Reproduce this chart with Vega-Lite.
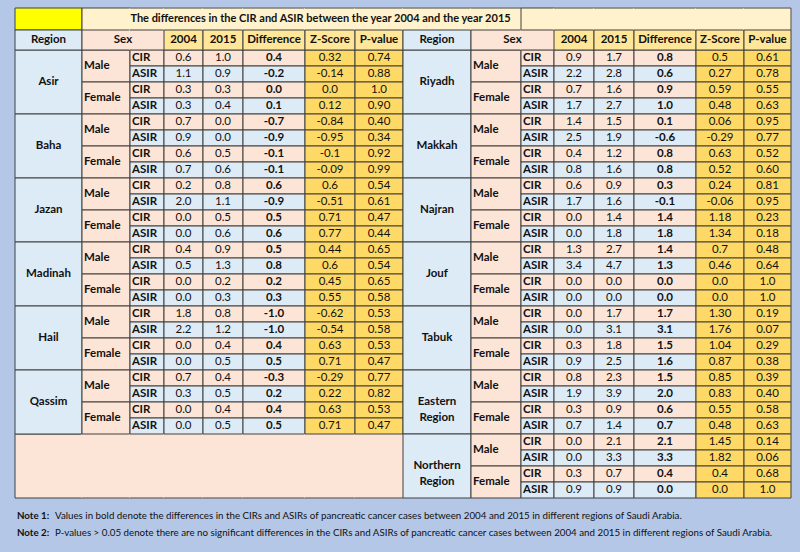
{
"$schema":"https://vega.github.io/schema/vega-lite/v6.json",
"background":"#b4c7e7",
"padding":{"left":14,"top":7,"right":10,"bottom":4},
"spacing":0,
"config":{"view":{"stroke":null},"concat":{"spacing":0},"axis":{"disable":true},"text":{"font":"Lato","fontSize":11.5,"color":"#111111"}},
"datasets":{
"left":[
{"region":"Asir","sex":"Male","measure":"CIR","y2004":"0.6","y2015":"1.0","diff":"0.4","z":"0.32","p":"0.74"},
{"region":"Asir","sex":"Male","measure":"ASIR","y2004":"1.1","y2015":"0.9","diff":"-0.2","z":"-0.14","p":"0.88"},
{"region":"Asir","sex":"Female","measure":"CIR","y2004":"0.3","y2015":"0.3","diff":"0.0","z":"0.0","p":"1.0"},
{"region":"Asir","sex":"Female","measure":"ASIR","y2004":"0.3","y2015":"0.4","diff":"0.1","z":"0.12","p":"0.90"},
{"region":"Baha","sex":"Male","measure":"CIR","y2004":"0.7","y2015":"0.0","diff":"-0.7","z":"-0.84","p":"0.40"},
{"region":"Baha","sex":"Male","measure":"ASIR","y2004":"0.9","y2015":"0.0","diff":"-0.9","z":"-0.95","p":"0.34"},
{"region":"Baha","sex":"Female","measure":"CIR","y2004":"0.6","y2015":"0.5","diff":"-0.1","z":"-0.1","p":"0.92"},
{"region":"Baha","sex":"Female","measure":"ASIR","y2004":"0.7","y2015":"0.6","diff":"-0.1","z":"-0.09","p":"0.99"},
{"region":"Jazan","sex":"Male","measure":"CIR","y2004":"0.2","y2015":"0.8","diff":"0.6","z":"0.6","p":"0.54"},
{"region":"Jazan","sex":"Male","measure":"ASIR","y2004":"2.0","y2015":"1.1","diff":"-0.9","z":"-0.51","p":"0.61"},
{"region":"Jazan","sex":"Female","measure":"CIR","y2004":"0.0","y2015":"0.5","diff":"0.5","z":"0.71","p":"0.47"},
{"region":"Jazan","sex":"Female","measure":"ASIR","y2004":"0.0","y2015":"0.6","diff":"0.6","z":"0.77","p":"0.44"},
{"region":"Madinah","sex":"Male","measure":"CIR","y2004":"0.4","y2015":"0.9","diff":"0.5","z":"0.44","p":"0.65"},
{"region":"Madinah","sex":"Male","measure":"ASIR","y2004":"0.5","y2015":"1.3","diff":"0.8","z":"0.6","p":"0.54"},
{"region":"Madinah","sex":"Female","measure":"CIR","y2004":"0.0","y2015":"0.2","diff":"0.2","z":"0.45","p":"0.65"},
{"region":"Madinah","sex":"Female","measure":"ASIR","y2004":"0.0","y2015":"0.3","diff":"0.3","z":"0.55","p":"0.58"},
{"region":"Hail","sex":"Male","measure":"CIR","y2004":"1.8","y2015":"0.8","diff":"-1.0","z":"-0.62","p":"0.53"},
{"region":"Hail","sex":"Male","measure":"ASIR","y2004":"2.2","y2015":"1.2","diff":"-1.0","z":"-0.54","p":"0.58"},
{"region":"Hail","sex":"Female","measure":"CIR","y2004":"0.0","y2015":"0.4","diff":"0.4","z":"0.63","p":"0.53"},
{"region":"Hail","sex":"Female","measure":"ASIR","y2004":"0.0","y2015":"0.5","diff":"0.5","z":"0.71","p":"0.47"},
{"region":"Qassim","sex":"Male","measure":"CIR","y2004":"0.7","y2015":"0.4","diff":"-0.3","z":"-0.29","p":"0.77"},
{"region":"Qassim","sex":"Male","measure":"ASIR","y2004":"0.3","y2015":"0.5","diff":"0.2","z":"0.22","p":"0.82"},
{"region":"Qassim","sex":"Female","measure":"CIR","y2004":"0.0","y2015":"0.4","diff":"0.4","z":"0.63","p":"0.53"},
{"region":"Qassim","sex":"Female","measure":"ASIR","y2004":"0.0","y2015":"0.5","diff":"0.5","z":"0.71","p":"0.47"}
],
"right":[
{"region":"Riyadh","sex":"Male","measure":"CIR","y2004":"0.9","y2015":"1.7","diff":"0.8","z":"0.5","p":"0.61"},
{"region":"Riyadh","sex":"Male","measure":"ASIR","y2004":"2.2","y2015":"2.8","diff":"0.6","z":"0.27","p":"0.78"},
{"region":"Riyadh","sex":"Female","measure":"CIR","y2004":"0.7","y2015":"1.6","diff":"0.9","z":"0.59","p":"0.55"},
{"region":"Riyadh","sex":"Female","measure":"ASIR","y2004":"1.7","y2015":"2.7","diff":"1.0","z":"0.48","p":"0.63"},
{"region":"Makkah","sex":"Male","measure":"CIR","y2004":"1.4","y2015":"1.5","diff":"0.1","z":"0.06","p":"0.95"},
{"region":"Makkah","sex":"Male","measure":"ASIR","y2004":"2.5","y2015":"1.9","diff":"-0.6","z":"-0.29","p":"0.77"},
{"region":"Makkah","sex":"Female","measure":"CIR","y2004":"0.4","y2015":"1.2","diff":"0.8","z":"0.63","p":"0.52"},
{"region":"Makkah","sex":"Female","measure":"ASIR","y2004":"0.8","y2015":"1.6","diff":"0.8","z":"0.52","p":"0.60"},
{"region":"Najran","sex":"Male","measure":"CIR","y2004":"0.6","y2015":"0.9","diff":"0.3","z":"0.24","p":"0.81"},
{"region":"Najran","sex":"Male","measure":"ASIR","y2004":"1.7","y2015":"1.6","diff":"-0.1","z":"-0.06","p":"0.95"},
{"region":"Najran","sex":"Female","measure":"CIR","y2004":"0.0","y2015":"1.4","diff":"1.4","z":"1.18","p":"0.23"},
{"region":"Najran","sex":"Female","measure":"ASIR","y2004":"0.0","y2015":"1.8","diff":"1.8","z":"1.34","p":"0.18"},
{"region":"Jouf","sex":"Male","measure":"CIR","y2004":"1.3","y2015":"2.7","diff":"1.4","z":"0.7","p":"0.48"},
{"region":"Jouf","sex":"Male","measure":"ASIR","y2004":"3.4","y2015":"4.7","diff":"1.3","z":"0.46","p":"0.64"},
{"region":"Jouf","sex":"Female","measure":"CIR","y2004":"0.0","y2015":"0.0","diff":"0.0","z":"0.0","p":"1.0"},
{"region":"Jouf","sex":"Female","measure":"ASIR","y2004":"0.0","y2015":"0.0","diff":"0.0","z":"0.0","p":"1.0"},
{"region":"Tabuk","sex":"Male","measure":"CIR","y2004":"0.0","y2015":"1.7","diff":"1.7","z":"1.30","p":"0.19"},
{"region":"Tabuk","sex":"Male","measure":"ASIR","y2004":"0.0","y2015":"3.1","diff":"3.1","z":"1.76","p":"0.07"},
{"region":"Tabuk","sex":"Female","measure":"CIR","y2004":"0.3","y2015":"1.8","diff":"1.5","z":"1.04","p":"0.29"},
{"region":"Tabuk","sex":"Female","measure":"ASIR","y2004":"0.9","y2015":"2.5","diff":"1.6","z":"0.87","p":"0.38"},
{"region":"Eastern Region","sex":"Male","measure":"CIR","y2004":"0.8","y2015":"2.3","diff":"1.5","z":"0.85","p":"0.39"},
{"region":"Eastern Region","sex":"Male","measure":"ASIR","y2004":"1.9","y2015":"3.9","diff":"2.0","z":"0.83","p":"0.40"},
{"region":"Eastern Region","sex":"Female","measure":"CIR","y2004":"0.3","y2015":"0.9","diff":"0.6","z":"0.55","p":"0.58"},
{"region":"Eastern Region","sex":"Female","measure":"ASIR","y2004":"0.7","y2015":"1.4","diff":"0.7","z":"0.48","p":"0.63"},
{"region":"Northern Region","sex":"Male","measure":"CIR","y2004":"0.0","y2015":"2.1","diff":"2.1","z":"1.45","p":"0.14"},
{"region":"Northern Region","sex":"Male","measure":"ASIR","y2004":"0.0","y2015":"3.3","diff":"3.3","z":"1.82","p":"0.06"},
{"region":"Northern Region","sex":"Female","measure":"CIR","y2004":"0.3","y2015":"0.7","diff":"0.4","z":"0.4","p":"0.68"},
{"region":"Northern Region","sex":"Female","measure":"ASIR","y2004":"0.9","y2015":"0.9","diff":"0.0","z":"0.0","p":"1.0"}
]
},
"vconcat":[
{"spacing":0,"bounds":"flush","hconcat":[
 {"width":67,"height":490,"data":{"name":"left"},"transform":[{"window":[{"op":"row_number","as":"r"}]},{"calculate":"datum.r + 1","as":"r2"},{"calculate":"datum.r + 0.5","as":"rm"}],"layer":[
   {"data":{"values":[{"cell":"title"}]},"mark":{"type":"rect","fill":"#ffff00","stroke":"#404040","strokeWidth":1},"encoding":{"y":{"datum":-1.625,"type":"quantitative","scale":{"domain":[-1.625,29],"reverse":true,"nice":false,"zero":false},"axis":null},"y2":{"datum":-0.25}}},
   {"data":{"values":[{"area":"blank"}]},"mark":{"type":"rect","fill":"#fce4d6","stroke":"#404040","strokeWidth":1,"strokeDash":[67,64,131,0]},"encoding":{"y":{"datum":25,"type":"quantitative","scale":{"domain":[-1.625,29],"reverse":true,"nice":false,"zero":false},"axis":null},"y2":{"datum":29}}},
   {"transform":[{"aggregate":[{"op":"min","field":"r","as":"r0"},{"op":"max","field":"r2","as":"r1"}],"groupby":["region"]},{"calculate":"(datum.r0 + datum.r1) / 2","as":"rc"}],"layer":[
     {"mark":{"type":"rect","fill":"#ddebf7","stroke":"#404040","strokeWidth":1},"encoding":{"y":{"field":"r0","type":"quantitative","scale":{"domain":[-1.625,29],"reverse":true,"nice":false,"zero":false},"axis":null},"y2":{"field":"r1"}}},
     {"mark":{"type":"text","fontWeight":"bold","lineBreak":" ","lineHeight":16},"encoding":{"y":{"field":"rc","type":"quantitative","scale":{"domain":[-1.625,29],"reverse":true,"nice":false,"zero":false},"axis":null},"text":{"field":"region"}}}
   ]},
   {"data":{"values":[{"header":"Region"}]},"layer":[
     {"mark":{"type":"rect","fill":"#ddebf7","stroke":"#404040","strokeWidth":1},"encoding":{"y":{"datum":-0.25,"type":"quantitative","scale":{"domain":[-1.625,29],"reverse":true,"nice":false,"zero":false},"axis":null},"y2":{"datum":1}}},
     {"mark":{"type":"text","fontWeight":"bold"},"encoding":{"y":{"datum":0.375,"type":"quantitative","scale":{"domain":[-1.625,29],"reverse":true,"nice":false,"zero":false},"axis":null},"text":{"field":"header"}}}
   ]}
 ]},
 {"width":48,"height":490,"data":{"name":"left"},"transform":[{"window":[{"op":"row_number","as":"r"}]},{"calculate":"datum.r + 1","as":"r2"},{"calculate":"datum.r + 0.5","as":"rm"}],"layer":[
   {"data":{"values":[{"cell":"title"}]},"mark":{"type":"rect","fill":"#fff2cc","stroke":"#404040","strokeWidth":1,"strokeDash":[48,70,22,0]},"encoding":{"y":{"datum":-1.625,"type":"quantitative","scale":{"domain":[-1.625,29],"reverse":true,"nice":false,"zero":false},"axis":null},"y2":{"datum":-0.25}}},
   {"data":{"values":[{"area":"blank"}]},"layer":[
     {"mark":{"type":"rect","fill":"#fce4d6","stroke":"#fce4d6","strokeWidth":1},"encoding":{"y":{"datum":25,"type":"quantitative","scale":{"domain":[-1.625,29],"reverse":true,"nice":false,"zero":false},"axis":null},"y2":{"datum":29}}},
     {"mark":{"type":"rule","color":"#404040","strokeWidth":1},"encoding":{"y":{"datum":29,"type":"quantitative","scale":{"domain":[-1.625,29],"reverse":true,"nice":false,"zero":false},"axis":null}}}
   ]},
   {"transform":[{"aggregate":[{"op":"min","field":"r","as":"s0"},{"op":"max","field":"r2","as":"s1"}],"groupby":["region","sex"]},{"calculate":"(datum.s0 + datum.s1) / 2","as":"sc"}],"layer":[
     {"mark":{"type":"rect","fill":"#fce4d6","stroke":"#404040","strokeWidth":1},"encoding":{"y":{"field":"s0","type":"quantitative","scale":{"domain":[-1.625,29],"reverse":true,"nice":false,"zero":false},"axis":null},"y2":{"field":"s1"}}},
     {"mark":{"type":"text","fontWeight":"bold","align":"left","dx":-22},"encoding":{"y":{"field":"sc","type":"quantitative","scale":{"domain":[-1.625,29],"reverse":true,"nice":false,"zero":false},"axis":null},"text":{"field":"sex"}}}
   ]},
   {"data":{"values":[{"header":"Sex"}]},"mark":{"type":"rect","fill":"#fce4d6","stroke":"#404040","strokeWidth":1,"strokeDash":[48,20,68,0]},"encoding":{"y":{"datum":-0.25,"type":"quantitative","scale":{"domain":[-1.625,29],"reverse":true,"nice":false,"zero":false},"axis":null},"y2":{"datum":1}}}
 ]},
 {"width":34,"height":490,"data":{"name":"left"},"transform":[{"window":[{"op":"row_number","as":"r"}]},{"calculate":"datum.r + 1","as":"r2"},{"calculate":"datum.r + 0.5","as":"rm"}],"layer":[
   {"data":{"values":[{"cell":"title"}]},"layer":[
     {"mark":{"type":"rect","fill":"#fff2cc","stroke":"#fff2cc","strokeWidth":1},"encoding":{"y":{"datum":-1.625,"type":"quantitative","scale":{"domain":[-1.625,29],"reverse":true,"nice":false,"zero":false},"axis":null},"y2":{"datum":-0.25}}},
     {"mark":{"type":"rule","color":"#404040","strokeWidth":1},"encoding":{"y":{"datum":-1.625,"type":"quantitative","scale":{"domain":[-1.625,29],"reverse":true,"nice":false,"zero":false},"axis":null}}}
   ]},
   {"data":{"values":[{"area":"blank"}]},"layer":[
     {"mark":{"type":"rect","fill":"#fce4d6","stroke":"#fce4d6","strokeWidth":1},"encoding":{"y":{"datum":25,"type":"quantitative","scale":{"domain":[-1.625,29],"reverse":true,"nice":false,"zero":false},"axis":null},"y2":{"datum":29}}},
     {"mark":{"type":"rule","color":"#404040","strokeWidth":1},"encoding":{"y":{"datum":29,"type":"quantitative","scale":{"domain":[-1.625,29],"reverse":true,"nice":false,"zero":false},"axis":null}}}
   ]},
   {"mark":{"type":"rect","stroke":"#404040","strokeWidth":1},"encoding":{"y":{"field":"r","type":"quantitative","scale":{"domain":[-1.625,29],"reverse":true,"nice":false,"zero":false},"axis":null},"y2":{"field":"r2"},"fill":{"condition":{"test":"datum.measure === 'CIR'","value":"#fce4d6"},"value":"#ddebf7"}}},
   {"mark":{"type":"text","fontWeight":"bold","align":"left","dx":-15},"encoding":{"y":{"field":"rm","type":"quantitative","scale":{"domain":[-1.625,29],"reverse":true,"nice":false,"zero":false},"axis":null},"text":{"field":"measure"}}},
   {"data":{"values":[{"header":"Sex"}]},"layer":[
     {"mark":{"type":"rect","fill":"#fce4d6","stroke":"#fce4d6","strokeWidth":1},"encoding":{"y":{"datum":-0.25,"type":"quantitative","scale":{"domain":[-1.625,29],"reverse":true,"nice":false,"zero":false},"axis":null},"y2":{"datum":1}}},
     {"mark":{"type":"rule","color":"#404040","strokeWidth":1},"encoding":{"y":{"datum":-0.25,"type":"quantitative","scale":{"domain":[-1.625,29],"reverse":true,"nice":false,"zero":false},"axis":null}}},
     {"mark":{"type":"rule","color":"#404040","strokeWidth":1},"encoding":{"y":{"datum":1,"type":"quantitative","scale":{"domain":[-1.625,29],"reverse":true,"nice":false,"zero":false},"axis":null}}},
     {"mark":{"type":"text","fontWeight":"bold","dx":-24},"encoding":{"y":{"datum":0.375,"type":"quantitative","scale":{"domain":[-1.625,29],"reverse":true,"nice":false,"zero":false},"axis":null},"text":{"field":"header"}}}
   ]}
 ]},
 {"width":39,"height":490,"data":{"name":"left"},"transform":[{"window":[{"op":"row_number","as":"r"}]},{"calculate":"datum.r + 1","as":"r2"},{"calculate":"datum.r + 0.5","as":"rm"}],"layer":[
   {"data":{"values":[{"cell":"title"}]},"layer":[
     {"mark":{"type":"rect","fill":"#fff2cc","stroke":"#fff2cc","strokeWidth":1},"encoding":{"y":{"datum":-1.625,"type":"quantitative","scale":{"domain":[-1.625,29],"reverse":true,"nice":false,"zero":false},"axis":null},"y2":{"datum":-0.25}}},
     {"mark":{"type":"rule","color":"#404040","strokeWidth":1},"encoding":{"y":{"datum":-1.625,"type":"quantitative","scale":{"domain":[-1.625,29],"reverse":true,"nice":false,"zero":false},"axis":null}}}
   ]},
   {"data":{"values":[{"area":"blank"}]},"layer":[
     {"mark":{"type":"rect","fill":"#fce4d6","stroke":"#fce4d6","strokeWidth":1},"encoding":{"y":{"datum":25,"type":"quantitative","scale":{"domain":[-1.625,29],"reverse":true,"nice":false,"zero":false},"axis":null},"y2":{"datum":29}}},
     {"mark":{"type":"rule","color":"#404040","strokeWidth":1},"encoding":{"y":{"datum":29,"type":"quantitative","scale":{"domain":[-1.625,29],"reverse":true,"nice":false,"zero":false},"axis":null}}}
   ]},
   {"mark":{"type":"rect","stroke":"#404040","strokeWidth":1},"encoding":{"y":{"field":"r","type":"quantitative","scale":{"domain":[-1.625,29],"reverse":true,"nice":false,"zero":false},"axis":null},"y2":{"field":"r2"},"fill":{"condition":{"test":"datum.measure === 'CIR'","value":"#fce4d6"},"value":"#ddebf7"}}},
   {"mark":{"type":"text"},"encoding":{"y":{"field":"rm","type":"quantitative","scale":{"domain":[-1.625,29],"reverse":true,"nice":false,"zero":false},"axis":null},"text":{"field":"y2004"}}},
   {"data":{"values":[{"header":"2004"}]},"layer":[
     {"mark":{"type":"rect","fill":"#ffe699","stroke":"#404040","strokeWidth":1},"encoding":{"y":{"datum":-0.25,"type":"quantitative","scale":{"domain":[-1.625,29],"reverse":true,"nice":false,"zero":false},"axis":null},"y2":{"datum":1}}},
     {"mark":{"type":"text","fontWeight":"bold"},"encoding":{"y":{"datum":0.375,"type":"quantitative","scale":{"domain":[-1.625,29],"reverse":true,"nice":false,"zero":false},"axis":null},"text":{"field":"header"}}}
   ]}
 ]},
 {"width":40,"height":490,"data":{"name":"left"},"transform":[{"window":[{"op":"row_number","as":"r"}]},{"calculate":"datum.r + 1","as":"r2"},{"calculate":"datum.r + 0.5","as":"rm"}],"layer":[
   {"data":{"values":[{"cell":"title"}]},"layer":[
     {"mark":{"type":"rect","fill":"#fff2cc","stroke":"#fff2cc","strokeWidth":1},"encoding":{"y":{"datum":-1.625,"type":"quantitative","scale":{"domain":[-1.625,29],"reverse":true,"nice":false,"zero":false},"axis":null},"y2":{"datum":-0.25}}},
     {"mark":{"type":"rule","color":"#404040","strokeWidth":1},"encoding":{"y":{"datum":-1.625,"type":"quantitative","scale":{"domain":[-1.625,29],"reverse":true,"nice":false,"zero":false},"axis":null}}}
   ]},
   {"data":{"values":[{"area":"blank"}]},"layer":[
     {"mark":{"type":"rect","fill":"#fce4d6","stroke":"#fce4d6","strokeWidth":1},"encoding":{"y":{"datum":25,"type":"quantitative","scale":{"domain":[-1.625,29],"reverse":true,"nice":false,"zero":false},"axis":null},"y2":{"datum":29}}},
     {"mark":{"type":"rule","color":"#404040","strokeWidth":1},"encoding":{"y":{"datum":29,"type":"quantitative","scale":{"domain":[-1.625,29],"reverse":true,"nice":false,"zero":false},"axis":null}}}
   ]},
   {"mark":{"type":"rect","stroke":"#404040","strokeWidth":1},"encoding":{"y":{"field":"r","type":"quantitative","scale":{"domain":[-1.625,29],"reverse":true,"nice":false,"zero":false},"axis":null},"y2":{"field":"r2"},"fill":{"condition":{"test":"datum.measure === 'CIR'","value":"#fce4d6"},"value":"#ddebf7"}}},
   {"mark":{"type":"text"},"encoding":{"y":{"field":"rm","type":"quantitative","scale":{"domain":[-1.625,29],"reverse":true,"nice":false,"zero":false},"axis":null},"text":{"field":"y2015"}}},
   {"data":{"values":[{"header":"2015"}]},"layer":[
     {"mark":{"type":"rect","fill":"#ffe699","stroke":"#404040","strokeWidth":1},"encoding":{"y":{"datum":-0.25,"type":"quantitative","scale":{"domain":[-1.625,29],"reverse":true,"nice":false,"zero":false},"axis":null},"y2":{"datum":1}}},
     {"mark":{"type":"text","fontWeight":"bold"},"encoding":{"y":{"datum":0.375,"type":"quantitative","scale":{"domain":[-1.625,29],"reverse":true,"nice":false,"zero":false},"axis":null},"text":{"field":"header"}}}
   ]}
 ]},
 {"width":62,"height":490,"data":{"name":"left"},"transform":[{"window":[{"op":"row_number","as":"r"}]},{"calculate":"datum.r + 1","as":"r2"},{"calculate":"datum.r + 0.5","as":"rm"}],"layer":[
   {"data":{"values":[{"cell":"title"}]},"layer":[
     {"mark":{"type":"rect","fill":"#fff2cc","stroke":"#fff2cc","strokeWidth":1},"encoding":{"y":{"datum":-1.625,"type":"quantitative","scale":{"domain":[-1.625,29],"reverse":true,"nice":false,"zero":false},"axis":null},"y2":{"datum":-0.25}}},
     {"mark":{"type":"rule","color":"#404040","strokeWidth":1},"encoding":{"y":{"datum":-1.625,"type":"quantitative","scale":{"domain":[-1.625,29],"reverse":true,"nice":false,"zero":false},"axis":null}}}
   ]},
   {"data":{"values":[{"area":"blank"}]},"layer":[
     {"mark":{"type":"rect","fill":"#fce4d6","stroke":"#fce4d6","strokeWidth":1},"encoding":{"y":{"datum":25,"type":"quantitative","scale":{"domain":[-1.625,29],"reverse":true,"nice":false,"zero":false},"axis":null},"y2":{"datum":29}}},
     {"mark":{"type":"rule","color":"#404040","strokeWidth":1},"encoding":{"y":{"datum":29,"type":"quantitative","scale":{"domain":[-1.625,29],"reverse":true,"nice":false,"zero":false},"axis":null}}}
   ]},
   {"mark":{"type":"rect","stroke":"#404040","strokeWidth":1},"encoding":{"y":{"field":"r","type":"quantitative","scale":{"domain":[-1.625,29],"reverse":true,"nice":false,"zero":false},"axis":null},"y2":{"field":"r2"},"fill":{"condition":{"test":"datum.measure === 'CIR'","value":"#fce4d6"},"value":"#ddebf7"}}},
   {"mark":{"type":"text","fontWeight":"bold"},"encoding":{"y":{"field":"rm","type":"quantitative","scale":{"domain":[-1.625,29],"reverse":true,"nice":false,"zero":false},"axis":null},"text":{"field":"diff"}}},
   {"data":{"values":[{"header":"Difference"}]},"layer":[
     {"mark":{"type":"rect","fill":"#ffe699","stroke":"#404040","strokeWidth":1},"encoding":{"y":{"datum":-0.25,"type":"quantitative","scale":{"domain":[-1.625,29],"reverse":true,"nice":false,"zero":false},"axis":null},"y2":{"datum":1}}},
     {"mark":{"type":"text","fontWeight":"bold"},"encoding":{"y":{"datum":0.375,"type":"quantitative","scale":{"domain":[-1.625,29],"reverse":true,"nice":false,"zero":false},"axis":null},"text":{"field":"header"}}}
   ]}
 ]},
 {"width":50,"height":490,"data":{"name":"left"},"transform":[{"window":[{"op":"row_number","as":"r"}]},{"calculate":"datum.r + 1","as":"r2"},{"calculate":"datum.r + 0.5","as":"rm"}],"layer":[
   {"data":{"values":[{"cell":"title"}]},"layer":[
     {"mark":{"type":"rect","fill":"#fff2cc","stroke":"#fff2cc","strokeWidth":1},"encoding":{"y":{"datum":-1.625,"type":"quantitative","scale":{"domain":[-1.625,29],"reverse":true,"nice":false,"zero":false},"axis":null},"y2":{"datum":-0.25}}},
     {"mark":{"type":"rule","color":"#404040","strokeWidth":1},"encoding":{"y":{"datum":-1.625,"type":"quantitative","scale":{"domain":[-1.625,29],"reverse":true,"nice":false,"zero":false},"axis":null}}}
   ]},
   {"data":{"values":[{"area":"blank"}]},"layer":[
     {"mark":{"type":"rect","fill":"#fce4d6","stroke":"#fce4d6","strokeWidth":1},"encoding":{"y":{"datum":25,"type":"quantitative","scale":{"domain":[-1.625,29],"reverse":true,"nice":false,"zero":false},"axis":null},"y2":{"datum":29}}},
     {"mark":{"type":"rule","color":"#404040","strokeWidth":1},"encoding":{"y":{"datum":29,"type":"quantitative","scale":{"domain":[-1.625,29],"reverse":true,"nice":false,"zero":false},"axis":null}}}
   ]},
   {"mark":{"type":"rect","stroke":"#404040","strokeWidth":1,"fill":"#ffd966"},"encoding":{"y":{"field":"r","type":"quantitative","scale":{"domain":[-1.625,29],"reverse":true,"nice":false,"zero":false},"axis":null},"y2":{"field":"r2"}}},
   {"mark":{"type":"text"},"encoding":{"y":{"field":"rm","type":"quantitative","scale":{"domain":[-1.625,29],"reverse":true,"nice":false,"zero":false},"axis":null},"text":{"field":"z"}}},
   {"data":{"values":[{"header":"Z-Score"}]},"layer":[
     {"mark":{"type":"rect","fill":"#ffe699","stroke":"#404040","strokeWidth":1},"encoding":{"y":{"datum":-0.25,"type":"quantitative","scale":{"domain":[-1.625,29],"reverse":true,"nice":false,"zero":false},"axis":null},"y2":{"datum":1}}},
     {"mark":{"type":"text","fontWeight":"bold"},"encoding":{"y":{"datum":0.375,"type":"quantitative","scale":{"domain":[-1.625,29],"reverse":true,"nice":false,"zero":false},"axis":null},"text":{"field":"header"}}}
   ]}
 ]},
 {"width":48,"height":490,"data":{"name":"left"},"transform":[{"window":[{"op":"row_number","as":"r"}]},{"calculate":"datum.r + 1","as":"r2"},{"calculate":"datum.r + 0.5","as":"rm"}],"layer":[
   {"data":{"values":[{"cell":"title"}]},"layer":[
     {"mark":{"type":"rect","fill":"#fff2cc","stroke":"#fff2cc","strokeWidth":1},"encoding":{"y":{"datum":-1.625,"type":"quantitative","scale":{"domain":[-1.625,29],"reverse":true,"nice":false,"zero":false},"axis":null},"y2":{"datum":-0.25}}},
     {"mark":{"type":"rule","color":"#404040","strokeWidth":1},"encoding":{"y":{"datum":-1.625,"type":"quantitative","scale":{"domain":[-1.625,29],"reverse":true,"nice":false,"zero":false},"axis":null}}}
   ]},
   {"data":{"values":[{"area":"blank"}]},"layer":[
     {"mark":{"type":"rect","fill":"#fce4d6","stroke":"#fce4d6","strokeWidth":1},"encoding":{"y":{"datum":25,"type":"quantitative","scale":{"domain":[-1.625,29],"reverse":true,"nice":false,"zero":false},"axis":null},"y2":{"datum":29}}},
     {"mark":{"type":"rule","color":"#404040","strokeWidth":1},"encoding":{"y":{"datum":29,"type":"quantitative","scale":{"domain":[-1.625,29],"reverse":true,"nice":false,"zero":false},"axis":null}}}
   ]},
   {"mark":{"type":"rect","stroke":"#404040","strokeWidth":1,"fill":"#ffd966"},"encoding":{"y":{"field":"r","type":"quantitative","scale":{"domain":[-1.625,29],"reverse":true,"nice":false,"zero":false},"axis":null},"y2":{"field":"r2"}}},
   {"mark":{"type":"text"},"encoding":{"y":{"field":"rm","type":"quantitative","scale":{"domain":[-1.625,29],"reverse":true,"nice":false,"zero":false},"axis":null},"text":{"field":"p"}}},
   {"data":{"values":[{"header":"P-value"}]},"layer":[
     {"mark":{"type":"rect","fill":"#ffe699","stroke":"#404040","strokeWidth":1},"encoding":{"y":{"datum":-0.25,"type":"quantitative","scale":{"domain":[-1.625,29],"reverse":true,"nice":false,"zero":false},"axis":null},"y2":{"datum":1}}},
     {"mark":{"type":"text","fontWeight":"bold"},"encoding":{"y":{"datum":0.375,"type":"quantitative","scale":{"domain":[-1.625,29],"reverse":true,"nice":false,"zero":false},"axis":null},"text":{"field":"header"}}}
   ]}
 ]},
 {"width":68,"height":490,"data":{"name":"right"},"transform":[{"window":[{"op":"row_number","as":"r"}]},{"calculate":"datum.r + 1","as":"r2"},{"calculate":"datum.r + 0.5","as":"rm"}],"layer":[
   {"data":{"values":[{"cell":"title"}]},"layer":[
     {"mark":{"type":"rect","fill":"#fff2cc","stroke":"#fff2cc","strokeWidth":1},"encoding":{"y":{"datum":-1.625,"type":"quantitative","scale":{"domain":[-1.625,29],"reverse":true,"nice":false,"zero":false},"axis":null},"y2":{"datum":-0.25}}},
     {"mark":{"type":"rule","color":"#404040","strokeWidth":1},"encoding":{"y":{"datum":-1.625,"type":"quantitative","scale":{"domain":[-1.625,29],"reverse":true,"nice":false,"zero":false},"axis":null}}}
   ]},
   {"transform":[{"aggregate":[{"op":"min","field":"r","as":"r0"},{"op":"max","field":"r2","as":"r1"}],"groupby":["region"]},{"calculate":"(datum.r0 + datum.r1) / 2","as":"rc"}],"layer":[
     {"mark":{"type":"rect","fill":"#ddebf7","stroke":"#404040","strokeWidth":1},"encoding":{"y":{"field":"r0","type":"quantitative","scale":{"domain":[-1.625,29],"reverse":true,"nice":false,"zero":false},"axis":null},"y2":{"field":"r1"}}},
     {"mark":{"type":"text","fontWeight":"bold","lineBreak":" ","lineHeight":16},"encoding":{"y":{"field":"rc","type":"quantitative","scale":{"domain":[-1.625,29],"reverse":true,"nice":false,"zero":false},"axis":null},"text":{"field":"region"}}}
   ]},
   {"data":{"values":[{"header":"Region"}]},"layer":[
     {"mark":{"type":"rect","fill":"#ddebf7","stroke":"#404040","strokeWidth":1},"encoding":{"y":{"datum":-0.25,"type":"quantitative","scale":{"domain":[-1.625,29],"reverse":true,"nice":false,"zero":false},"axis":null},"y2":{"datum":1}}},
     {"mark":{"type":"text","fontWeight":"bold"},"encoding":{"y":{"datum":0.375,"type":"quantitative","scale":{"domain":[-1.625,29],"reverse":true,"nice":false,"zero":false},"axis":null},"text":{"field":"header"}}}
   ]}
 ]},
 {"width":50,"height":490,"data":{"name":"right"},"transform":[{"window":[{"op":"row_number","as":"r"}]},{"calculate":"datum.r + 1","as":"r2"},{"calculate":"datum.r + 0.5","as":"rm"}],"layer":[
   {"data":{"values":[{"t":"The differences in the CIR and ASIR between the year 2004 and the year 2015"}]},"layer":[
     {"mark":{"type":"rect","fill":"#fff2cc","stroke":"#fff2cc","strokeWidth":1},"encoding":{"y":{"datum":-1.625,"type":"quantitative","scale":{"domain":[-1.625,29],"reverse":true,"nice":false,"zero":false},"axis":null},"y2":{"datum":-0.25}}},
     {"mark":{"type":"rule","color":"#404040","strokeWidth":1},"encoding":{"y":{"datum":-1.625,"type":"quantitative","scale":{"domain":[-1.625,29],"reverse":true,"nice":false,"zero":false},"axis":null}}},
     {"mark":{"type":"text","fontWeight":"bold","fontSize":11,"dx":-175.5},"encoding":{"y":{"datum":-0.9375,"type":"quantitative","scale":{"domain":[-1.625,29],"reverse":true,"nice":false,"zero":false},"axis":null},"text":{"field":"t"}}}
   ]},
   {"transform":[{"aggregate":[{"op":"min","field":"r","as":"s0"},{"op":"max","field":"r2","as":"s1"}],"groupby":["region","sex"]},{"calculate":"(datum.s0 + datum.s1) / 2","as":"sc"}],"layer":[
     {"mark":{"type":"rect","fill":"#fce4d6","stroke":"#404040","strokeWidth":1},"encoding":{"y":{"field":"s0","type":"quantitative","scale":{"domain":[-1.625,29],"reverse":true,"nice":false,"zero":false},"axis":null},"y2":{"field":"s1"}}},
     {"mark":{"type":"text","fontWeight":"bold","align":"left","dx":-23},"encoding":{"y":{"field":"sc","type":"quantitative","scale":{"domain":[-1.625,29],"reverse":true,"nice":false,"zero":false},"axis":null},"text":{"field":"sex"}}}
   ]},
   {"data":{"values":[{"header":"Sex"}]},"mark":{"type":"rect","fill":"#fce4d6","stroke":"#404040","strokeWidth":1,"strokeDash":[50,20,70,0]},"encoding":{"y":{"datum":-0.25,"type":"quantitative","scale":{"domain":[-1.625,29],"reverse":true,"nice":false,"zero":false},"axis":null},"y2":{"datum":1}}}
 ]},
 {"width":33,"height":490,"data":{"name":"right"},"transform":[{"window":[{"op":"row_number","as":"r"}]},{"calculate":"datum.r + 1","as":"r2"},{"calculate":"datum.r + 0.5","as":"rm"}],"layer":[
   {"data":{"values":[{"cell":"title"}]},"mark":{"type":"rect","fill":"#fff2cc","stroke":"#404040","strokeWidth":1,"strokeDash":[33,55,22,0]},"encoding":{"y":{"datum":-1.625,"type":"quantitative","scale":{"domain":[-1.625,29],"reverse":true,"nice":false,"zero":false},"axis":null},"y2":{"datum":-0.25}}},
   {"mark":{"type":"rect","stroke":"#404040","strokeWidth":1},"encoding":{"y":{"field":"r","type":"quantitative","scale":{"domain":[-1.625,29],"reverse":true,"nice":false,"zero":false},"axis":null},"y2":{"field":"r2"},"fill":{"condition":{"test":"datum.measure === 'CIR'","value":"#fce4d6"},"value":"#ddebf7"}}},
   {"mark":{"type":"text","fontWeight":"bold","align":"left","dx":-14.5},"encoding":{"y":{"field":"rm","type":"quantitative","scale":{"domain":[-1.625,29],"reverse":true,"nice":false,"zero":false},"axis":null},"text":{"field":"measure"}}},
   {"data":{"values":[{"header":"Sex"}]},"layer":[
     {"mark":{"type":"rect","fill":"#fce4d6","stroke":"#fce4d6","strokeWidth":1},"encoding":{"y":{"datum":-0.25,"type":"quantitative","scale":{"domain":[-1.625,29],"reverse":true,"nice":false,"zero":false},"axis":null},"y2":{"datum":1}}},
     {"mark":{"type":"rule","color":"#404040","strokeWidth":1},"encoding":{"y":{"datum":-0.25,"type":"quantitative","scale":{"domain":[-1.625,29],"reverse":true,"nice":false,"zero":false},"axis":null}}},
     {"mark":{"type":"rule","color":"#404040","strokeWidth":1},"encoding":{"y":{"datum":1,"type":"quantitative","scale":{"domain":[-1.625,29],"reverse":true,"nice":false,"zero":false},"axis":null}}},
     {"mark":{"type":"text","fontWeight":"bold","dx":-25},"encoding":{"y":{"datum":0.375,"type":"quantitative","scale":{"domain":[-1.625,29],"reverse":true,"nice":false,"zero":false},"axis":null},"text":{"field":"header"}}}
   ]}
 ]},
 {"width":40,"height":490,"data":{"name":"right"},"transform":[{"window":[{"op":"row_number","as":"r"}]},{"calculate":"datum.r + 1","as":"r2"},{"calculate":"datum.r + 0.5","as":"rm"}],"layer":[
   {"data":{"values":[{"cell":"title"}]},"layer":[
     {"mark":{"type":"rect","fill":"#fff2cc","stroke":"#fff2cc","strokeWidth":1},"encoding":{"y":{"datum":-1.625,"type":"quantitative","scale":{"domain":[-1.625,29],"reverse":true,"nice":false,"zero":false},"axis":null},"y2":{"datum":-0.25}}},
     {"mark":{"type":"rule","color":"#404040","strokeWidth":1},"encoding":{"y":{"datum":-1.625,"type":"quantitative","scale":{"domain":[-1.625,29],"reverse":true,"nice":false,"zero":false},"axis":null}}}
   ]},
   {"mark":{"type":"rect","stroke":"#404040","strokeWidth":1},"encoding":{"y":{"field":"r","type":"quantitative","scale":{"domain":[-1.625,29],"reverse":true,"nice":false,"zero":false},"axis":null},"y2":{"field":"r2"},"fill":{"condition":{"test":"datum.measure === 'CIR'","value":"#fce4d6"},"value":"#ddebf7"}}},
   {"mark":{"type":"text"},"encoding":{"y":{"field":"rm","type":"quantitative","scale":{"domain":[-1.625,29],"reverse":true,"nice":false,"zero":false},"axis":null},"text":{"field":"y2004"}}},
   {"data":{"values":[{"header":"2004"}]},"layer":[
     {"mark":{"type":"rect","fill":"#ffe699","stroke":"#404040","strokeWidth":1},"encoding":{"y":{"datum":-0.25,"type":"quantitative","scale":{"domain":[-1.625,29],"reverse":true,"nice":false,"zero":false},"axis":null},"y2":{"datum":1}}},
     {"mark":{"type":"text","fontWeight":"bold"},"encoding":{"y":{"datum":0.375,"type":"quantitative","scale":{"domain":[-1.625,29],"reverse":true,"nice":false,"zero":false},"axis":null},"text":{"field":"header"}}}
   ]}
 ]},
 {"width":40,"height":490,"data":{"name":"right"},"transform":[{"window":[{"op":"row_number","as":"r"}]},{"calculate":"datum.r + 1","as":"r2"},{"calculate":"datum.r + 0.5","as":"rm"}],"layer":[
   {"data":{"values":[{"cell":"title"}]},"layer":[
     {"mark":{"type":"rect","fill":"#fff2cc","stroke":"#fff2cc","strokeWidth":1},"encoding":{"y":{"datum":-1.625,"type":"quantitative","scale":{"domain":[-1.625,29],"reverse":true,"nice":false,"zero":false},"axis":null},"y2":{"datum":-0.25}}},
     {"mark":{"type":"rule","color":"#404040","strokeWidth":1},"encoding":{"y":{"datum":-1.625,"type":"quantitative","scale":{"domain":[-1.625,29],"reverse":true,"nice":false,"zero":false},"axis":null}}}
   ]},
   {"mark":{"type":"rect","stroke":"#404040","strokeWidth":1},"encoding":{"y":{"field":"r","type":"quantitative","scale":{"domain":[-1.625,29],"reverse":true,"nice":false,"zero":false},"axis":null},"y2":{"field":"r2"},"fill":{"condition":{"test":"datum.measure === 'CIR'","value":"#fce4d6"},"value":"#ddebf7"}}},
   {"mark":{"type":"text"},"encoding":{"y":{"field":"rm","type":"quantitative","scale":{"domain":[-1.625,29],"reverse":true,"nice":false,"zero":false},"axis":null},"text":{"field":"y2015"}}},
   {"data":{"values":[{"header":"2015"}]},"layer":[
     {"mark":{"type":"rect","fill":"#ffe699","stroke":"#404040","strokeWidth":1},"encoding":{"y":{"datum":-0.25,"type":"quantitative","scale":{"domain":[-1.625,29],"reverse":true,"nice":false,"zero":false},"axis":null},"y2":{"datum":1}}},
     {"mark":{"type":"text","fontWeight":"bold"},"encoding":{"y":{"datum":0.375,"type":"quantitative","scale":{"domain":[-1.625,29],"reverse":true,"nice":false,"zero":false},"axis":null},"text":{"field":"header"}}}
   ]}
 ]},
 {"width":62,"height":490,"data":{"name":"right"},"transform":[{"window":[{"op":"row_number","as":"r"}]},{"calculate":"datum.r + 1","as":"r2"},{"calculate":"datum.r + 0.5","as":"rm"}],"layer":[
   {"data":{"values":[{"cell":"title"}]},"layer":[
     {"mark":{"type":"rect","fill":"#fff2cc","stroke":"#fff2cc","strokeWidth":1},"encoding":{"y":{"datum":-1.625,"type":"quantitative","scale":{"domain":[-1.625,29],"reverse":true,"nice":false,"zero":false},"axis":null},"y2":{"datum":-0.25}}},
     {"mark":{"type":"rule","color":"#404040","strokeWidth":1},"encoding":{"y":{"datum":-1.625,"type":"quantitative","scale":{"domain":[-1.625,29],"reverse":true,"nice":false,"zero":false},"axis":null}}}
   ]},
   {"mark":{"type":"rect","stroke":"#404040","strokeWidth":1},"encoding":{"y":{"field":"r","type":"quantitative","scale":{"domain":[-1.625,29],"reverse":true,"nice":false,"zero":false},"axis":null},"y2":{"field":"r2"},"fill":{"condition":{"test":"datum.measure === 'CIR'","value":"#fce4d6"},"value":"#ddebf7"}}},
   {"mark":{"type":"text","fontWeight":"bold"},"encoding":{"y":{"field":"rm","type":"quantitative","scale":{"domain":[-1.625,29],"reverse":true,"nice":false,"zero":false},"axis":null},"text":{"field":"diff"}}},
   {"data":{"values":[{"header":"Difference"}]},"layer":[
     {"mark":{"type":"rect","fill":"#ffe699","stroke":"#404040","strokeWidth":1},"encoding":{"y":{"datum":-0.25,"type":"quantitative","scale":{"domain":[-1.625,29],"reverse":true,"nice":false,"zero":false},"axis":null},"y2":{"datum":1}}},
     {"mark":{"type":"text","fontWeight":"bold"},"encoding":{"y":{"datum":0.375,"type":"quantitative","scale":{"domain":[-1.625,29],"reverse":true,"nice":false,"zero":false},"axis":null},"text":{"field":"header"}}}
   ]}
 ]},
 {"width":48,"height":490,"data":{"name":"right"},"transform":[{"window":[{"op":"row_number","as":"r"}]},{"calculate":"datum.r + 1","as":"r2"},{"calculate":"datum.r + 0.5","as":"rm"}],"layer":[
   {"data":{"values":[{"cell":"title"}]},"layer":[
     {"mark":{"type":"rect","fill":"#fff2cc","stroke":"#fff2cc","strokeWidth":1},"encoding":{"y":{"datum":-1.625,"type":"quantitative","scale":{"domain":[-1.625,29],"reverse":true,"nice":false,"zero":false},"axis":null},"y2":{"datum":-0.25}}},
     {"mark":{"type":"rule","color":"#404040","strokeWidth":1},"encoding":{"y":{"datum":-1.625,"type":"quantitative","scale":{"domain":[-1.625,29],"reverse":true,"nice":false,"zero":false},"axis":null}}}
   ]},
   {"mark":{"type":"rect","stroke":"#404040","strokeWidth":1,"fill":"#ffd966"},"encoding":{"y":{"field":"r","type":"quantitative","scale":{"domain":[-1.625,29],"reverse":true,"nice":false,"zero":false},"axis":null},"y2":{"field":"r2"}}},
   {"mark":{"type":"text"},"encoding":{"y":{"field":"rm","type":"quantitative","scale":{"domain":[-1.625,29],"reverse":true,"nice":false,"zero":false},"axis":null},"text":{"field":"z"}}},
   {"data":{"values":[{"header":"Z-Score"}]},"layer":[
     {"mark":{"type":"rect","fill":"#ffe699","stroke":"#404040","strokeWidth":1},"encoding":{"y":{"datum":-0.25,"type":"quantitative","scale":{"domain":[-1.625,29],"reverse":true,"nice":false,"zero":false},"axis":null},"y2":{"datum":1}}},
     {"mark":{"type":"text","fontWeight":"bold"},"encoding":{"y":{"datum":0.375,"type":"quantitative","scale":{"domain":[-1.625,29],"reverse":true,"nice":false,"zero":false},"axis":null},"text":{"field":"header"}}}
   ]}
 ]},
 {"width":47,"height":490,"data":{"name":"right"},"transform":[{"window":[{"op":"row_number","as":"r"}]},{"calculate":"datum.r + 1","as":"r2"},{"calculate":"datum.r + 0.5","as":"rm"}],"layer":[
   {"data":{"values":[{"cell":"title"}]},"layer":[
     {"mark":{"type":"rect","fill":"#fff2cc","stroke":"#fff2cc","strokeWidth":1},"encoding":{"y":{"datum":-1.625,"type":"quantitative","scale":{"domain":[-1.625,29],"reverse":true,"nice":false,"zero":false},"axis":null},"y2":{"datum":-0.25}}},
     {"mark":{"type":"rect","fillOpacity":0,"stroke":"#404040","strokeWidth":1,"strokeDash":[69,69]},"encoding":{"y":{"datum":-1.625,"type":"quantitative","scale":{"domain":[-1.625,29],"reverse":true,"nice":false,"zero":false},"axis":null},"y2":{"datum":-0.25}}}
   ]},
   {"mark":{"type":"rect","stroke":"#404040","strokeWidth":1,"fill":"#ffd966"},"encoding":{"y":{"field":"r","type":"quantitative","scale":{"domain":[-1.625,29],"reverse":true,"nice":false,"zero":false},"axis":null},"y2":{"field":"r2"}}},
   {"mark":{"type":"text"},"encoding":{"y":{"field":"rm","type":"quantitative","scale":{"domain":[-1.625,29],"reverse":true,"nice":false,"zero":false},"axis":null},"text":{"field":"p"}}},
   {"data":{"values":[{"header":"P-value"}]},"layer":[
     {"mark":{"type":"rect","fill":"#ffe699","stroke":"#404040","strokeWidth":1},"encoding":{"y":{"datum":-0.25,"type":"quantitative","scale":{"domain":[-1.625,29],"reverse":true,"nice":false,"zero":false},"axis":null},"y2":{"datum":1}}},
     {"mark":{"type":"text","fontWeight":"bold"},"encoding":{"y":{"datum":0.375,"type":"quantitative","scale":{"domain":[-1.625,29],"reverse":true,"nice":false,"zero":false},"axis":null},"text":{"field":"header"}}}
   ]}
 ]}
]},
{"width":776,"height":51,"data":{"values":[
 {"label":"Note 1:","body":"Values in bold denote the differences in the CIRs and ASIRs of pancreatic cancer cases between 2004 and 2015 in different regions of Saudi Arabia."},
 {"label":"Note 2:","body":"P-values > 0.05 denote there are no significant differences in the CIRs and ASIRs of pancreatic cancer cases between 2004 and 2015 in different regions of Saudi Arabia."}
]},"layer":[
 {"mark":{"type":"text","fontWeight":"bold","fontSize":9.75,"align":"left"},"encoding":{"x":{"value":2},"y":{"field":"label","type":"ordinal","scale":{"type":"point","padding":1},"axis":null},"text":{"field":"label"}}},
 {"mark":{"type":"text","fontSize":9.75,"align":"left"},"encoding":{"x":{"value":40},"y":{"field":"label","type":"ordinal","scale":{"type":"point","padding":1},"axis":null},"text":{"field":"body"}}}
]}
]
}
